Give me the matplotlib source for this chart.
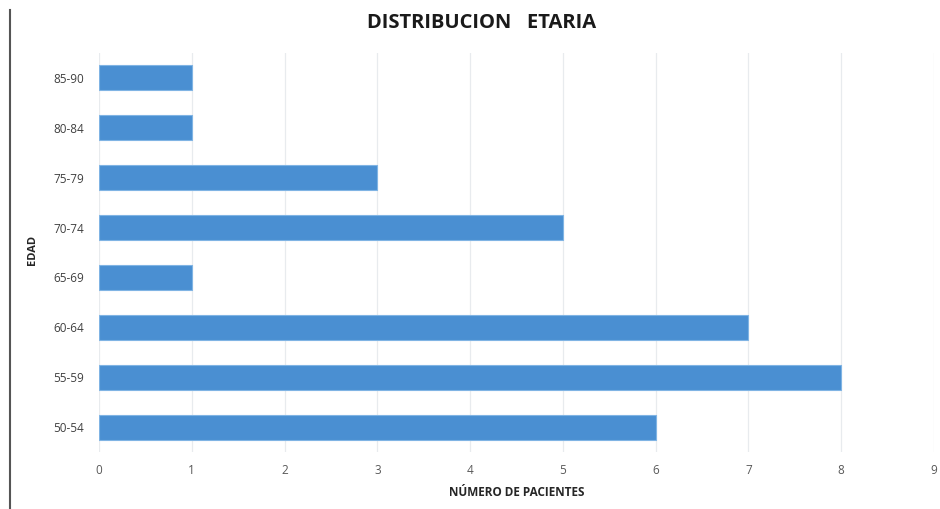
import matplotlib
matplotlib.use("Agg")
import matplotlib.pyplot as plt
from matplotlib.lines import Line2D
import numpy as np

categories = ["50-54", "55-59", "60-64", "65-69", "70-74", "75-79", "80-84", "85-90"]
values = [6, 8, 7, 1, 5, 3, 1, 1]
xticks = [0, 1, 2, 3, 4, 5, 6, 7, 8, 9]

plt.rcParams['font.family'] = ['Open Sans', 'DejaVu Sans']

fig = plt.figure(figsize=(9.4, 5.09), dpi=100)
ax = fig.add_axes([99/940, 1-452/509, 835/940, (452-53)/509])

y = np.arange(len(categories))
ax.barh(y, values, height=0.5, color="#4A8FD2", edgecolor="#80B4E4", linewidth=0.8, zorder=3)

ax.set_xlim(0, 9)
ax.set_ylim(-0.5, len(categories) - 0.5)
ax.set_xticks(xticks)
ax.set_xticklabels([str(t) for t in xticks], fontsize=8.5, color="#595959")
ax.set_yticks(y)
ax.set_yticklabels(categories, fontsize=8.5, color="#404040")
ax.tick_params(axis='x', length=0, pad=9)
ax.tick_params(axis='y', length=0, pad=11)
ax.grid(axis='x', color="#E8EBEE", linewidth=0.9, zorder=0)
for s in ax.spines.values():
    s.set_visible(False)

ax.set_xlabel("NÚMERO DE PACIENTES", fontsize=8.5, fontweight='bold', color="#262626", labelpad=6)
fig.text(33/940, 1-250/509, "EDAD", rotation=90, fontsize=8, fontweight='bold',
         color="#262626", ha='center', va='center')
fig.text(482/940, 1-23/509, "DISTRIBUCION   ETARIA", fontsize=14.5, fontweight='bold',
         color="#1a1a1a", ha='center', va='center')

fig.add_artist(Line2D([10/940, 10/940], [0, 1-10/509], color="#555555", linewidth=1.5))

fig.savefig("out.png", dpi=100, facecolor="white")
